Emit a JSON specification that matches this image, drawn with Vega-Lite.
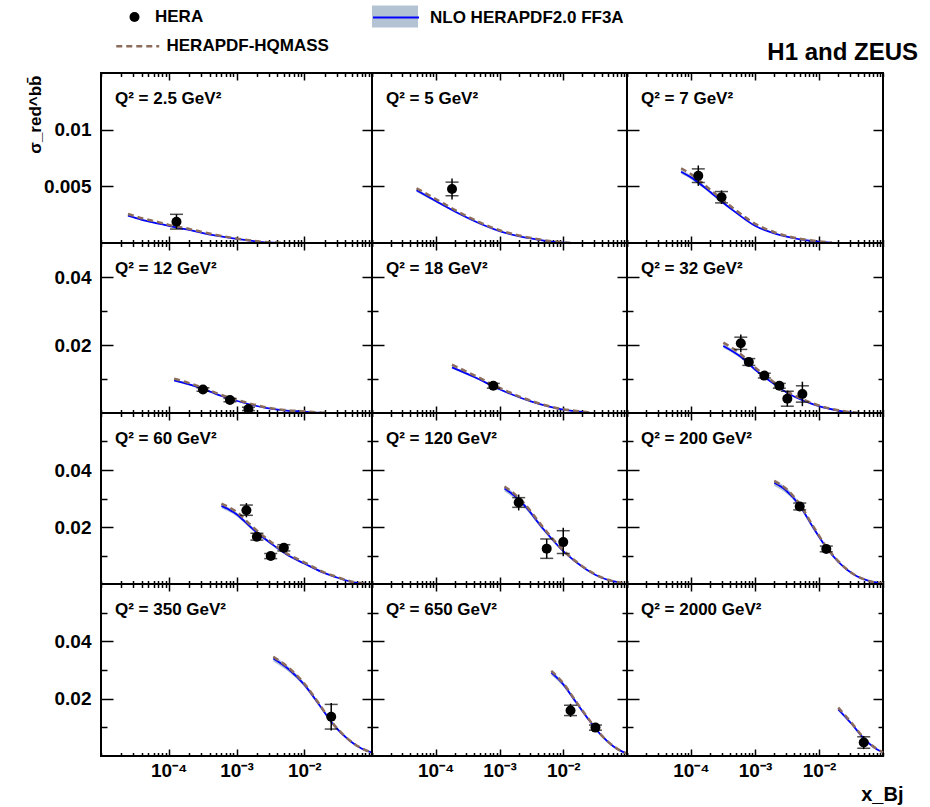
{
"$schema":"https://vega.github.io/schema/vega-lite/v6.json",
"background":"white",
"padding":{"left":24,"top":5,"right":5,"bottom":5},
"title":{"text":"H1 and ZEUS","anchor":"end","fontSize":24,"font":"Liberation Sans","fontWeight":"bold","color":"black","dx":14,"dy":60,"offset":0},
"config":{
"font":"Liberation Sans",
"view":{"stroke":"black","strokeWidth":2},
"axis":{"domain":false,"grid":false,"ticks":true,"tickColor":"black","tickWidth":1.5,"labelFont":"Liberation Sans","labelFontWeight":"bold","labelColor":"black","labelFontSize":19,"titleFont":"Liberation Sans","titleFontWeight":"bold","titleColor":"black"},
"title":{"font":"Liberation Sans","fontWeight":"bold","fontSize":17,"color":"black"},
"legend":{"labelFont":"Liberation Sans","labelFontWeight":"bold","labelColor":"black","labelFontSize":17,"labelLimit":0,"padding":0,"rowPadding":0,"offset":0,"titlePadding":0}
},
"datasets":{
"curves":[
{"panel":1,"x":0.000025,"nlo":0.00241,"lo":0.00234,"hi":0.00248,"hq":0.00256},
{"panel":1,"x":0.00004,"nlo":0.00205,"lo":0.00199,"hi":0.00211,"hq":0.00219},
{"panel":1,"x":0.00007,"nlo":0.00172,"lo":0.00167,"hi":0.00177,"hq":0.00184},
{"panel":1,"x":0.0001,"nlo":0.00151,"lo":0.00146,"hi":0.00156,"hq":0.0016},
{"panel":1,"x":0.0002,"nlo":0.00115,"lo":0.00112,"hi":0.00118,"hq":0.00124},
{"panel":1,"x":0.00031,"nlo":0.0009,"lo":0.00087,"hi":0.00093,"hq":0.00097},
{"panel":1,"x":0.0005,"nlo":0.00065,"lo":0.00063,"hi":0.00067,"hq":0.00071},
{"panel":1,"x":0.001,"nlo":0.00036,"lo":0.00035,"hi":0.00037,"hq":0.0004},
{"panel":1,"x":0.002,"nlo":0.00013,"lo":0.00012,"hi":0.00014,"hq":0.00015},
{"panel":1,"x":0.0035,"nlo":0.00003,"lo":0.00003,"hi":0.00003,"hq":0.00004},
{"panel":1,"x":0.005,"nlo":0,"lo":0,"hi":0,"hq":0.00001},
{"panel":2,"x":0.00005,"nlo":0.00465,"lo":0.00451,"hi":0.00479,"hq":0.00483},
{"panel":2,"x":0.0001,"nlo":0.0037,"lo":0.00359,"hi":0.00381,"hq":0.00388},
{"panel":2,"x":0.00023,"nlo":0.0026,"lo":0.00252,"hi":0.00268,"hq":0.00273},
{"panel":2,"x":0.0005,"nlo":0.0017,"lo":0.00165,"hi":0.00175,"hq":0.0018},
{"panel":2,"x":0.001,"nlo":0.00105,"lo":0.00102,"hi":0.00108,"hq":0.00113},
{"panel":2,"x":0.0031,"nlo":0.0004,"lo":0.00039,"hi":0.00041,"hq":0.00045},
{"panel":2,"x":0.006,"nlo":0.00015,"lo":0.00014,"hi":0.00016,"hq":0.00018},
{"panel":2,"x":0.01,"nlo":0.00004,"lo":0.00004,"hi":0.00004,"hq":0.00006},
{"panel":2,"x":0.013,"nlo":0,"lo":0,"hi":0,"hq":0},
{"panel":3,"x":0.00007,"nlo":0.00629,"lo":0.0061,"hi":0.00648,"hq":0.00658},
{"panel":3,"x":0.0001,"nlo":0.00579,"lo":0.00562,"hi":0.00596,"hq":0.00608},
{"panel":3,"x":0.0002,"nlo":0.0045,"lo":0.00437,"hi":0.00463,"hq":0.0047},
{"panel":3,"x":0.0003,"nlo":0.00366,"lo":0.00355,"hi":0.00377,"hq":0.0039},
{"panel":3,"x":0.0005,"nlo":0.0027,"lo":0.00262,"hi":0.00278,"hq":0.0029},
{"panel":3,"x":0.001,"nlo":0.00152,"lo":0.00147,"hi":0.00157,"hq":0.0017},
{"panel":3,"x":0.002,"nlo":0.00085,"lo":0.00082,"hi":0.00088,"hq":0.00095},
{"panel":3,"x":0.003,"nlo":0.00058,"lo":0.00056,"hi":0.0006,"hq":0.00065},
{"panel":3,"x":0.006,"nlo":0.00025,"lo":0.00024,"hi":0.00026,"hq":0.0003},
{"panel":3,"x":0.01,"nlo":0.00012,"lo":0.00012,"hi":0.00012,"hq":0.00015},
{"panel":3,"x":0.016,"nlo":0.00002,"lo":0.00002,"hi":0.00002,"hq":0.00003},
{"panel":4,"x":0.00012,"nlo":0.0096,"lo":0.0093,"hi":0.0099,"hq":0.0101},
{"panel":4,"x":0.0002,"nlo":0.0084,"lo":0.0081,"hi":0.0087,"hq":0.0088},
{"panel":4,"x":0.00032,"nlo":0.0071,"lo":0.0069,"hi":0.0073,"hq":0.0074},
{"panel":4,"x":0.0006,"nlo":0.005,"lo":0.0048,"hi":0.0052,"hq":0.0053},
{"panel":4,"x":0.001,"nlo":0.0036,"lo":0.0035,"hi":0.0037,"hq":0.0039},
{"panel":4,"x":0.0027,"nlo":0.0015,"lo":0.00145,"hi":0.00155,"hq":0.0017},
{"panel":4,"x":0.005,"nlo":0.0008,"lo":0.00077,"hi":0.00083,"hq":0.0009},
{"panel":4,"x":0.01,"nlo":0.0004,"lo":0.00039,"hi":0.00041,"hq":0.0005},
{"panel":4,"x":0.016,"nlo":0.0001,"lo":0.0001,"hi":0.0001,"hq":0.00015},
{"panel":4,"x":0.023,"nlo":0,"lo":0,"hi":0,"hq":0},
{"panel":5,"x":0.00018,"nlo":0.0134,"lo":0.013,"hi":0.0138,"hq":0.0142},
{"panel":5,"x":0.00041,"nlo":0.0105,"lo":0.0102,"hi":0.0108,"hq":0.011},
{"panel":5,"x":0.001,"nlo":0.007,"lo":0.0068,"hi":0.0072,"hq":0.0074},
{"panel":5,"x":0.0031,"nlo":0.0034,"lo":0.0033,"hi":0.0035,"hq":0.0036},
{"panel":5,"x":0.01,"nlo":0.001,"lo":0.00097,"hi":0.00103,"hq":0.0011},
{"panel":5,"x":0.02,"nlo":0.0003,"lo":0.0003,"hi":0.0003,"hq":0.0004},
{"panel":5,"x":0.027,"nlo":0,"lo":0,"hi":0,"hq":0.0001},
{"panel":6,"x":0.00032,"nlo":0.0197,"lo":0.0191,"hi":0.0203,"hq":0.0207},
{"panel":6,"x":0.0006,"nlo":0.0165,"lo":0.016,"hi":0.017,"hq":0.0173},
{"panel":6,"x":0.001,"nlo":0.0128,"lo":0.0124,"hi":0.0132,"hq":0.0134},
{"panel":6,"x":0.002,"nlo":0.0085,"lo":0.0082,"hi":0.0088,"hq":0.009},
{"panel":6,"x":0.0032,"nlo":0.0059,"lo":0.0057,"hi":0.0061,"hq":0.0063},
{"panel":6,"x":0.006,"nlo":0.0035,"lo":0.0034,"hi":0.0036,"hq":0.0038},
{"panel":6,"x":0.01,"nlo":0.002,"lo":0.0019,"hi":0.0021,"hq":0.0022},
{"panel":6,"x":0.02,"nlo":0.0007,"lo":0.00068,"hi":0.00072,"hq":0.0008},
{"panel":6,"x":0.03,"nlo":0.0002,"lo":0.0002,"hi":0.0002,"hq":0.0003},
{"panel":6,"x":0.04,"nlo":0,"lo":0,"hi":0,"hq":0.00005},
{"panel":7,"x":0.0006,"nlo":0.0274,"lo":0.0266,"hi":0.0282,"hq":0.0282},
{"panel":7,"x":0.001,"nlo":0.0245,"lo":0.0238,"hi":0.0252,"hq":0.0253},
{"panel":7,"x":0.0017,"nlo":0.0195,"lo":0.0189,"hi":0.0201,"hq":0.0202},
{"panel":7,"x":0.0032,"nlo":0.0143,"lo":0.0139,"hi":0.0147,"hq":0.0148},
{"panel":7,"x":0.006,"nlo":0.0098,"lo":0.0095,"hi":0.0101,"hq":0.0102},
{"panel":7,"x":0.01,"nlo":0.0072,"lo":0.007,"hi":0.0074,"hq":0.0076},
{"panel":7,"x":0.02,"nlo":0.0038,"lo":0.0037,"hi":0.0039,"hq":0.004},
{"panel":7,"x":0.027,"nlo":0.0027,"lo":0.0026,"hi":0.0028,"hq":0.0029},
{"panel":7,"x":0.053,"nlo":0.0006,"lo":0.00058,"hi":0.00062,"hq":0.0007},
{"panel":7,"x":0.08,"nlo":0.0001,"lo":0.0001,"hi":0.0001,"hq":0.0001},
{"panel":8,"x":0.0012,"nlo":0.0335,"lo":0.0325,"hi":0.0345,"hq":0.0342},
{"panel":8,"x":0.0017,"nlo":0.031,"lo":0.0301,"hi":0.0319,"hq":0.0317},
{"panel":8,"x":0.0025,"nlo":0.0274,"lo":0.0266,"hi":0.0282,"hq":0.028},
{"panel":8,"x":0.0049,"nlo":0.0192,"lo":0.0186,"hi":0.0198,"hq":0.0197},
{"panel":8,"x":0.01,"nlo":0.0115,"lo":0.0112,"hi":0.0118,"hq":0.0118},
{"panel":8,"x":0.023,"nlo":0.0051,"lo":0.0049,"hi":0.0053,"hq":0.0053},
{"panel":8,"x":0.04,"nlo":0.0022,"lo":0.0021,"hi":0.0023,"hq":0.0023},
{"panel":8,"x":0.063,"nlo":0.0009,"lo":0.00087,"hi":0.00093,"hq":0.0009},
{"panel":8,"x":0.085,"nlo":0.0003,"lo":0.0003,"hi":0.0003,"hq":0.0003},
{"panel":9,"x":0.002,"nlo":0.0355,"lo":0.0344,"hi":0.0366,"hq":0.0362},
{"panel":9,"x":0.003,"nlo":0.033,"lo":0.032,"hi":0.034,"hq":0.0336},
{"panel":9,"x":0.005,"nlo":0.0275,"lo":0.0267,"hi":0.0283,"hq":0.028},
{"panel":9,"x":0.008,"nlo":0.02,"lo":0.0194,"hi":0.0206,"hq":0.0205},
{"panel":9,"x":0.013,"nlo":0.0128,"lo":0.0124,"hi":0.0132,"hq":0.0131},
{"panel":9,"x":0.02,"nlo":0.0078,"lo":0.0076,"hi":0.008,"hq":0.008},
{"panel":9,"x":0.035,"nlo":0.0033,"lo":0.0032,"hi":0.0034,"hq":0.0034},
{"panel":9,"x":0.06,"nlo":0.0011,"lo":0.0011,"hi":0.0011,"hq":0.0011},
{"panel":9,"x":0.1,"nlo":0.0002,"lo":0.0002,"hi":0.0002,"hq":0.0002},
{"panel":10,"x":0.0035,"nlo":0.034,"lo":0.033,"hi":0.035,"hq":0.0346},
{"panel":10,"x":0.006,"nlo":0.0301,"lo":0.0292,"hi":0.031,"hq":0.0306},
{"panel":10,"x":0.01,"nlo":0.0249,"lo":0.0242,"hi":0.0256,"hq":0.0253},
{"panel":10,"x":0.0167,"nlo":0.0178,"lo":0.0173,"hi":0.0183,"hq":0.0181},
{"panel":10,"x":0.026,"nlo":0.0114,"lo":0.0111,"hi":0.0117,"hq":0.0116},
{"panel":10,"x":0.046,"nlo":0.0055,"lo":0.0053,"hi":0.0057,"hq":0.0056},
{"panel":10,"x":0.07,"nlo":0.0026,"lo":0.0025,"hi":0.0027,"hq":0.0027},
{"panel":10,"x":0.1,"nlo":0.0012,"lo":0.0012,"hi":0.0012,"hq":0.0012},
{"panel":11,"x":0.0065,"nlo":0.0291,"lo":0.0282,"hi":0.03,"hq":0.0297},
{"panel":11,"x":0.01,"nlo":0.025,"lo":0.0243,"hi":0.0257,"hq":0.0254},
{"panel":11,"x":0.0147,"nlo":0.0198,"lo":0.0192,"hi":0.0204,"hq":0.0201},
{"panel":11,"x":0.0237,"nlo":0.0134,"lo":0.013,"hi":0.0138,"hq":0.0136},
{"panel":11,"x":0.038,"nlo":0.0076,"lo":0.0074,"hi":0.0078,"hq":0.0077},
{"panel":11,"x":0.06,"nlo":0.0035,"lo":0.0034,"hi":0.0036,"hq":0.0036},
{"panel":11,"x":0.083,"nlo":0.0016,"lo":0.0016,"hi":0.0016,"hq":0.0016},
{"panel":11,"x":0.1,"nlo":0.0009,"lo":0.0009,"hi":0.0009,"hq":0.0009},
{"panel":12,"x":0.02,"nlo":0.0163,"lo":0.0158,"hi":0.0168,"hq":0.0169},
{"panel":12,"x":0.033,"nlo":0.011,"lo":0.0107,"hi":0.0113,"hq":0.0113},
{"panel":12,"x":0.048,"nlo":0.0066,"lo":0.0064,"hi":0.0068,"hq":0.0068},
{"panel":12,"x":0.081,"nlo":0.0023,"lo":0.0022,"hi":0.0024,"hq":0.0024},
{"panel":12,"x":0.1,"nlo":0.0013,"lo":0.0013,"hi":0.0013,"hq":0.0013}
],
"points":[
{"panel":1,"x":0.00013,"y":0.00188,"ylo":0.00123,"yhi":0.00253,"slo":0.00123,"shi":0.00253},
{"panel":2,"x":0.00018,"y":0.00477,"ylo":0.00384,"yhi":0.0057,"slo":0.00417,"shi":0.00537},
{"panel":3,"x":0.00013,"y":0.00594,"ylo":0.00504,"yhi":0.00684,"slo":0.00534,"shi":0.00654},
{"panel":3,"x":0.0003,"y":0.00404,"ylo":0.00344,"yhi":0.00464,"slo":0.00354,"shi":0.00454},
{"panel":4,"x":0.00032,"y":0.0069,"ylo":0.0063,"yhi":0.0075,"slo":0.0064,"shi":0.0074},
{"panel":4,"x":0.0008,"y":0.0038,"ylo":0.0032,"yhi":0.0044,"slo":0.0033,"shi":0.0043},
{"panel":4,"x":0.0015,"y":0.0012,"ylo":0.0006,"yhi":0.0018,"slo":0.0007,"shi":0.0017},
{"panel":5,"x":0.0008,"y":0.008,"ylo":0.0072,"yhi":0.0088,"slo":0.0073,"shi":0.0087},
{"panel":6,"x":0.0006,"y":0.0205,"ylo":0.0179,"yhi":0.0231,"slo":0.0187,"shi":0.0223},
{"panel":6,"x":0.0008,"y":0.015,"ylo":0.0138,"yhi":0.0162,"slo":0.014,"shi":0.016},
{"panel":6,"x":0.0014,"y":0.011,"ylo":0.0102,"yhi":0.0118,"slo":0.0103,"shi":0.0117},
{"panel":6,"x":0.0024,"y":0.008,"ylo":0.0072,"yhi":0.0088,"slo":0.0073,"shi":0.0087},
{"panel":6,"x":0.0032,"y":0.0042,"ylo":0.0019,"yhi":0.0065,"slo":0.002,"shi":0.0064},
{"panel":6,"x":0.0055,"y":0.0056,"ylo":0.002,"yhi":0.0092,"slo":0.0032,"shi":0.008},
{"panel":7,"x":0.0014,"y":0.0259,"ylo":0.0234,"yhi":0.0284,"slo":0.0241,"shi":0.0277},
{"panel":7,"x":0.002,"y":0.0166,"ylo":0.0151,"yhi":0.0181,"slo":0.0154,"shi":0.0178},
{"panel":7,"x":0.0032,"y":0.0098,"ylo":0.0088,"yhi":0.0108,"slo":0.0089,"shi":0.0107},
{"panel":7,"x":0.005,"y":0.0127,"ylo":0.0115,"yhi":0.0139,"slo":0.0116,"shi":0.0138},
{"panel":8,"x":0.002,"y":0.0286,"ylo":0.0258,"yhi":0.0314,"slo":0.0269,"shi":0.0303},
{"panel":8,"x":0.0055,"y":0.0124,"ylo":0.009,"yhi":0.0158,"slo":0.009,"shi":0.0158},
{"panel":8,"x":0.01,"y":0.0147,"ylo":0.0097,"yhi":0.0197,"slo":0.0107,"shi":0.0187},
{"panel":9,"x":0.005,"y":0.0272,"ylo":0.0257,"yhi":0.0287,"slo":0.026,"shi":0.0284},
{"panel":9,"x":0.013,"y":0.0123,"ylo":0.011,"yhi":0.0136,"slo":0.0113,"shi":0.0133},
{"panel":10,"x":0.025,"y":0.0137,"ylo":0.0089,"yhi":0.0185,"slo":0.0094,"shi":0.018},
{"panel":11,"x":0.013,"y":0.0159,"ylo":0.0136,"yhi":0.0182,"slo":0.0141,"shi":0.0177},
{"panel":11,"x":0.032,"y":0.0099,"ylo":0.0089,"yhi":0.0109,"slo":0.009,"shi":0.0108},
{"panel":12,"x":0.05,"y":0.0047,"ylo":0.0024,"yhi":0.007,"slo":0.0027,"shi":0.0067}
]
},
"columns":3,
"spacing":0,
"bounds":"flush",
"concat":[
{"width":271,"height":170,
"title":{"text":"Q² = 2.5 GeV²","anchor":"start","frame":"group","offset":-18,"dx":14,"dy":31,"baseline":"alphabetic"},
"resolve":{"axis":{"x":"independent","y":"independent"}},
"layer":[
{"data":{"name":"curves"},"transform":[{"filter":"datum.panel==1"}],"mark":{"type":"area","interpolate":"monotone"},
"encoding":{"x":{"field":"x","type":"quantitative","scale":{"type":"log","domain":[0.00001,0.1]},"axis":{"orient":"bottom","values":[0.00001,0.00002,0.00003,0.00004,0.00005,0.00006,0.00007,0.00008,0.00009,0.0001,0.0002,0.0003,0.0004,0.0005,0.0006,0.0007,0.0008,0.0009,0.001,0.002,0.003,0.004,0.005,0.006,0.007,0.008,0.009,0.01,0.02,0.03,0.04,0.05,0.06,0.07,0.08,0.09,0.1],"tickSize":{"condition":{"test":"datum.value==0.0001||datum.value==0.001||datum.value==0.01","value":-7},"value":-3.5},"labels":false,"title":null}},
"y":{"field":"lo","type":"quantitative","scale":{"domain":[0,0.015],"nice":false},"axis":{"orient":"left","values":[0.005,0.01],"tickSize":-12,"format":".3~f","labelPadding":22,"title":"σ_red^bb̄","titleX":-66,"titleY":2,"titleAngle":-90,"titleAlign":"right","titleBaseline":"middle","titleFontSize":17}},
"y2":{"field":"hi"},
"fill":{"datum":"NLO band","type":"nominal","scale":{"range":["#b4c3d4"]},"legend":{"orient":"none","legendX":282.5,"legendY":-68,"title":null,"symbolType":"M-2,-0.96H2V0.96H-2Z","symbolSize":529,"symbolStrokeWidth":0,"symbolFillColor":"#b4c3d4","labelExpr":"''","labelOffset":21.5}}}},
{"data":{"name":"curves"},"transform":[{"filter":"datum.panel==1"}],"mark":{"type":"line","strokeWidth":1.8,"interpolate":"monotone"},
"encoding":{"x":{"field":"x","type":"quantitative","scale":{"type":"log","domain":[0.00001,0.1]},"axis":{"orient":"top","values":[0.00001,0.00002,0.00003,0.00004,0.00005,0.00006,0.00007,0.00008,0.00009,0.0001,0.0002,0.0003,0.0004,0.0005,0.0006,0.0007,0.0008,0.0009,0.001,0.002,0.003,0.004,0.005,0.006,0.007,0.008,0.009,0.01,0.02,0.03,0.04,0.05,0.06,0.07,0.08,0.09,0.1],"tickSize":{"condition":{"test":"datum.value==0.0001||datum.value==0.001||datum.value==0.01","value":-7},"value":-3.5},"labels":false,"title":null}},
"y":{"field":"nlo","type":"quantitative","scale":{"domain":[0,0.015],"nice":false},"axis":{"orient":"right","values":[0.005,0.01],"tickSize":-10,"labels":false,"title":null}},
"stroke":{"datum":"NLO HERAPDF2.0 FF3A","type":"nominal","scale":{"range":["#0000ff"]},"legend":{"orient":"none","legendX":282.5,"legendY":-68,"title":null,"symbolType":"M-2,0H2","symbolSize":529,"symbolStrokeWidth":2,"labelOffset":21.5}}}},
{"data":{"name":"curves"},"transform":[{"filter":"datum.panel==1"}],"mark":{"type":"line","color":"#8c6d5c","strokeWidth":2.5,"interpolate":"monotone"},
"encoding":{"x":{"field":"x","type":"quantitative","scale":{"type":"log","domain":[0.00001,0.1]},"axis":null},
"y":{"field":"hq","type":"quantitative","scale":{"domain":[0,0.015],"nice":false},"axis":null},
"strokeDash":{"datum":"HERAPDF-HQMASS","type":"nominal","scale":{"range":[[6,4]]},"legend":{"orient":"none","legendX":24.75,"legendY":-38.75,"title":null,"symbolType":"M-2,0H2","symbolSize":462,"symbolStrokeWidth":2.5,"symbolStrokeColor":"#8c6d5c","labelOffset":16.75}}}},
{"data":{"name":"points"},"transform":[{"filter":"datum.panel==1"}],"mark":{"type":"rule","color":"black","strokeWidth":1.5},
"encoding":{"x":{"field":"x","type":"quantitative","scale":{"type":"log","domain":[0.00001,0.1]},"axis":null},"y":{"field":"ylo","type":"quantitative","scale":{"domain":[0,0.015],"nice":false},"axis":null},"y2":{"field":"yhi"}}},
{"data":{"name":"points"},"transform":[{"filter":"datum.panel==1"}],"mark":{"type":"tick","orient":"horizontal","color":"black","thickness":1.5,"size":13},
"encoding":{"x":{"field":"x","type":"quantitative","scale":{"type":"log","domain":[0.00001,0.1]},"axis":null},"y":{"field":"slo","type":"quantitative","scale":{"domain":[0,0.015],"nice":false},"axis":null}}},
{"data":{"name":"points"},"transform":[{"filter":"datum.panel==1"}],"mark":{"type":"tick","orient":"horizontal","color":"black","thickness":1.5,"size":13},
"encoding":{"x":{"field":"x","type":"quantitative","scale":{"type":"log","domain":[0.00001,0.1]},"axis":null},"y":{"field":"shi","type":"quantitative","scale":{"domain":[0,0.015],"nice":false},"axis":null}}},
{"data":{"name":"points"},"transform":[{"filter":"datum.panel==1"}],"mark":{"type":"point","filled":true,"color":"black","size":100,"opacity":1},
"encoding":{"x":{"field":"x","type":"quantitative","scale":{"type":"log","domain":[0.00001,0.1]},"axis":null},"y":{"field":"y","type":"quantitative","scale":{"domain":[0,0.015],"nice":false},"axis":null},
"shape":{"datum":"HERA","type":"nominal","scale":{"range":["circle"]},"legend":{"orient":"none","legendX":25,"legendY":-64.5,"title":null,"symbolSize":100,"symbolFillColor":"black","symbolStrokeWidth":0,"labelOffset":12}}}}
]},
{"width":255,"height":170,
"title":{"text":"Q² = 5 GeV²","anchor":"start","frame":"group","offset":-18,"dx":14,"dy":31,"baseline":"alphabetic"},
"resolve":{"axis":{"x":"independent","y":"independent"}},
"layer":[
{"data":{"name":"curves"},"transform":[{"filter":"datum.panel==2"}],"mark":{"type":"area","color":"#b4c3d4","interpolate":"monotone"},
"encoding":{"x":{"field":"x","type":"quantitative","scale":{"type":"log","domain":[0.00001,0.1]},"axis":{"orient":"bottom","values":[0.00001,0.00002,0.00003,0.00004,0.00005,0.00006,0.00007,0.00008,0.00009,0.0001,0.0002,0.0003,0.0004,0.0005,0.0006,0.0007,0.0008,0.0009,0.001,0.002,0.003,0.004,0.005,0.006,0.007,0.008,0.009,0.01,0.02,0.03,0.04,0.05,0.06,0.07,0.08,0.09,0.1],"tickSize":{"condition":{"test":"datum.value==0.0001||datum.value==0.001||datum.value==0.01","value":-7},"value":-3.5},"labels":false,"title":null}},
"y":{"field":"lo","type":"quantitative","scale":{"domain":[0,0.015],"nice":false},"axis":{"orient":"left","values":[0.005,0.01],"tickSize":-12,"labels":false,"title":null}},
"y2":{"field":"hi"}}},
{"data":{"name":"curves"},"transform":[{"filter":"datum.panel==2"}],"mark":{"type":"line","color":"#0000ff","strokeWidth":1.8,"interpolate":"monotone"},
"encoding":{"x":{"field":"x","type":"quantitative","scale":{"type":"log","domain":[0.00001,0.1]},"axis":{"orient":"top","values":[0.00001,0.00002,0.00003,0.00004,0.00005,0.00006,0.00007,0.00008,0.00009,0.0001,0.0002,0.0003,0.0004,0.0005,0.0006,0.0007,0.0008,0.0009,0.001,0.002,0.003,0.004,0.005,0.006,0.007,0.008,0.009,0.01,0.02,0.03,0.04,0.05,0.06,0.07,0.08,0.09,0.1],"tickSize":{"condition":{"test":"datum.value==0.0001||datum.value==0.001||datum.value==0.01","value":-7},"value":-3.5},"labels":false,"title":null}},
"y":{"field":"nlo","type":"quantitative","scale":{"domain":[0,0.015],"nice":false},"axis":{"orient":"right","values":[0.005,0.01],"tickSize":-10,"labels":false,"title":null}}}},
{"data":{"name":"curves"},"transform":[{"filter":"datum.panel==2"}],"mark":{"type":"line","color":"#8c6d5c","strokeWidth":2.5,"strokeDash":[6,4],"interpolate":"monotone"},
"encoding":{"x":{"field":"x","type":"quantitative","scale":{"type":"log","domain":[0.00001,0.1]},"axis":null},"y":{"field":"hq","type":"quantitative","scale":{"domain":[0,0.015],"nice":false},"axis":null}}},
{"data":{"name":"points"},"transform":[{"filter":"datum.panel==2"}],"mark":{"type":"rule","color":"black","strokeWidth":1.5},
"encoding":{"x":{"field":"x","type":"quantitative","scale":{"type":"log","domain":[0.00001,0.1]},"axis":null},"y":{"field":"ylo","type":"quantitative","scale":{"domain":[0,0.015],"nice":false},"axis":null},"y2":{"field":"yhi"}}},
{"data":{"name":"points"},"transform":[{"filter":"datum.panel==2"}],"mark":{"type":"tick","orient":"horizontal","color":"black","thickness":1.5,"size":13},
"encoding":{"x":{"field":"x","type":"quantitative","scale":{"type":"log","domain":[0.00001,0.1]},"axis":null},"y":{"field":"slo","type":"quantitative","scale":{"domain":[0,0.015],"nice":false},"axis":null}}},
{"data":{"name":"points"},"transform":[{"filter":"datum.panel==2"}],"mark":{"type":"tick","orient":"horizontal","color":"black","thickness":1.5,"size":13},
"encoding":{"x":{"field":"x","type":"quantitative","scale":{"type":"log","domain":[0.00001,0.1]},"axis":null},"y":{"field":"shi","type":"quantitative","scale":{"domain":[0,0.015],"nice":false},"axis":null}}},
{"data":{"name":"points"},"transform":[{"filter":"datum.panel==2"}],"mark":{"type":"point","shape":"circle","filled":true,"color":"black","size":100,"opacity":1},
"encoding":{"x":{"field":"x","type":"quantitative","scale":{"type":"log","domain":[0.00001,0.1]},"axis":null},"y":{"field":"y","type":"quantitative","scale":{"domain":[0,0.015],"nice":false},"axis":null}}}
]},
{"width":256,"height":170,
"title":{"text":"Q² = 7 GeV²","anchor":"start","frame":"group","offset":-18,"dx":14,"dy":31,"baseline":"alphabetic"},
"resolve":{"axis":{"x":"independent","y":"independent"}},
"layer":[
{"data":{"name":"curves"},"transform":[{"filter":"datum.panel==3"}],"mark":{"type":"area","color":"#b4c3d4","interpolate":"monotone"},
"encoding":{"x":{"field":"x","type":"quantitative","scale":{"type":"log","domain":[0.00001,0.1]},"axis":{"orient":"bottom","values":[0.00001,0.00002,0.00003,0.00004,0.00005,0.00006,0.00007,0.00008,0.00009,0.0001,0.0002,0.0003,0.0004,0.0005,0.0006,0.0007,0.0008,0.0009,0.001,0.002,0.003,0.004,0.005,0.006,0.007,0.008,0.009,0.01,0.02,0.03,0.04,0.05,0.06,0.07,0.08,0.09,0.1],"tickSize":{"condition":{"test":"datum.value==0.0001||datum.value==0.001||datum.value==0.01","value":-7},"value":-3.5},"labels":false,"title":null}},
"y":{"field":"lo","type":"quantitative","scale":{"domain":[0,0.015],"nice":false},"axis":{"orient":"left","values":[0.005,0.01],"tickSize":-12,"labels":false,"title":null}},
"y2":{"field":"hi"}}},
{"data":{"name":"curves"},"transform":[{"filter":"datum.panel==3"}],"mark":{"type":"line","color":"#0000ff","strokeWidth":1.8,"interpolate":"monotone"},
"encoding":{"x":{"field":"x","type":"quantitative","scale":{"type":"log","domain":[0.00001,0.1]},"axis":{"orient":"top","values":[0.00001,0.00002,0.00003,0.00004,0.00005,0.00006,0.00007,0.00008,0.00009,0.0001,0.0002,0.0003,0.0004,0.0005,0.0006,0.0007,0.0008,0.0009,0.001,0.002,0.003,0.004,0.005,0.006,0.007,0.008,0.009,0.01,0.02,0.03,0.04,0.05,0.06,0.07,0.08,0.09,0.1],"tickSize":{"condition":{"test":"datum.value==0.0001||datum.value==0.001||datum.value==0.01","value":-7},"value":-3.5},"labels":false,"title":null}},
"y":{"field":"nlo","type":"quantitative","scale":{"domain":[0,0.015],"nice":false},"axis":{"orient":"right","values":[0.005,0.01],"tickSize":-10,"labels":false,"title":null}}}},
{"data":{"name":"curves"},"transform":[{"filter":"datum.panel==3"}],"mark":{"type":"line","color":"#8c6d5c","strokeWidth":2.5,"strokeDash":[6,4],"interpolate":"monotone"},
"encoding":{"x":{"field":"x","type":"quantitative","scale":{"type":"log","domain":[0.00001,0.1]},"axis":null},"y":{"field":"hq","type":"quantitative","scale":{"domain":[0,0.015],"nice":false},"axis":null}}},
{"data":{"name":"points"},"transform":[{"filter":"datum.panel==3"}],"mark":{"type":"rule","color":"black","strokeWidth":1.5},
"encoding":{"x":{"field":"x","type":"quantitative","scale":{"type":"log","domain":[0.00001,0.1]},"axis":null},"y":{"field":"ylo","type":"quantitative","scale":{"domain":[0,0.015],"nice":false},"axis":null},"y2":{"field":"yhi"}}},
{"data":{"name":"points"},"transform":[{"filter":"datum.panel==3"}],"mark":{"type":"tick","orient":"horizontal","color":"black","thickness":1.5,"size":13},
"encoding":{"x":{"field":"x","type":"quantitative","scale":{"type":"log","domain":[0.00001,0.1]},"axis":null},"y":{"field":"slo","type":"quantitative","scale":{"domain":[0,0.015],"nice":false},"axis":null}}},
{"data":{"name":"points"},"transform":[{"filter":"datum.panel==3"}],"mark":{"type":"tick","orient":"horizontal","color":"black","thickness":1.5,"size":13},
"encoding":{"x":{"field":"x","type":"quantitative","scale":{"type":"log","domain":[0.00001,0.1]},"axis":null},"y":{"field":"shi","type":"quantitative","scale":{"domain":[0,0.015],"nice":false},"axis":null}}},
{"data":{"name":"points"},"transform":[{"filter":"datum.panel==3"}],"mark":{"type":"point","shape":"circle","filled":true,"color":"black","size":100,"opacity":1},
"encoding":{"x":{"field":"x","type":"quantitative","scale":{"type":"log","domain":[0.00001,0.1]},"axis":null},"y":{"field":"y","type":"quantitative","scale":{"domain":[0,0.015],"nice":false},"axis":null}}}
]},
{"width":271,"height":170,
"title":{"text":"Q² = 12 GeV²","anchor":"start","frame":"group","offset":-18,"dx":14,"dy":31,"baseline":"alphabetic"},
"resolve":{"axis":{"x":"independent","y":"independent"}},
"layer":[
{"data":{"name":"curves"},"transform":[{"filter":"datum.panel==4"}],"mark":{"type":"area","color":"#b4c3d4","interpolate":"monotone"},
"encoding":{"x":{"field":"x","type":"quantitative","scale":{"type":"log","domain":[0.00001,0.1]},"axis":{"orient":"bottom","values":[0.00001,0.00002,0.00003,0.00004,0.00005,0.00006,0.00007,0.00008,0.00009,0.0001,0.0002,0.0003,0.0004,0.0005,0.0006,0.0007,0.0008,0.0009,0.001,0.002,0.003,0.004,0.005,0.006,0.007,0.008,0.009,0.01,0.02,0.03,0.04,0.05,0.06,0.07,0.08,0.09,0.1],"tickSize":{"condition":{"test":"datum.value==0.0001||datum.value==0.001||datum.value==0.01","value":-7},"value":-3.5},"labels":false,"title":null}},
"y":{"field":"lo","type":"quantitative","scale":{"domain":[0,0.05],"nice":false},"axis":{"orient":"left","values":[0.01,0.02,0.03,0.04],"tickSize":{"condition":{"test":"datum.value==0.02||datum.value==0.04","value":-12},"value":-6},"labelExpr":"datum.value==0.02||datum.value==0.04?format(datum.value,'.2f'):''","labelOverlap":false,"labelPadding":22,"title":null}},
"y2":{"field":"hi"}}},
{"data":{"name":"curves"},"transform":[{"filter":"datum.panel==4"}],"mark":{"type":"line","color":"#0000ff","strokeWidth":1.8,"interpolate":"monotone"},
"encoding":{"x":{"field":"x","type":"quantitative","scale":{"type":"log","domain":[0.00001,0.1]},"axis":{"orient":"top","values":[0.00001,0.00002,0.00003,0.00004,0.00005,0.00006,0.00007,0.00008,0.00009,0.0001,0.0002,0.0003,0.0004,0.0005,0.0006,0.0007,0.0008,0.0009,0.001,0.002,0.003,0.004,0.005,0.006,0.007,0.008,0.009,0.01,0.02,0.03,0.04,0.05,0.06,0.07,0.08,0.09,0.1],"tickSize":{"condition":{"test":"datum.value==0.0001||datum.value==0.001||datum.value==0.01","value":-7},"value":-3.5},"labels":false,"title":null}},
"y":{"field":"nlo","type":"quantitative","scale":{"domain":[0,0.05],"nice":false},"axis":{"orient":"right","values":[0.01,0.02,0.03,0.04],"tickSize":{"condition":{"test":"datum.value==0.02||datum.value==0.04","value":-10},"value":-5},"labels":false,"title":null}}}},
{"data":{"name":"curves"},"transform":[{"filter":"datum.panel==4"}],"mark":{"type":"line","color":"#8c6d5c","strokeWidth":2.5,"strokeDash":[6,4],"interpolate":"monotone"},
"encoding":{"x":{"field":"x","type":"quantitative","scale":{"type":"log","domain":[0.00001,0.1]},"axis":null},"y":{"field":"hq","type":"quantitative","scale":{"domain":[0,0.05],"nice":false},"axis":null}}},
{"data":{"name":"points"},"transform":[{"filter":"datum.panel==4"}],"mark":{"type":"rule","color":"black","strokeWidth":1.5},
"encoding":{"x":{"field":"x","type":"quantitative","scale":{"type":"log","domain":[0.00001,0.1]},"axis":null},"y":{"field":"ylo","type":"quantitative","scale":{"domain":[0,0.05],"nice":false},"axis":null},"y2":{"field":"yhi"}}},
{"data":{"name":"points"},"transform":[{"filter":"datum.panel==4"}],"mark":{"type":"tick","orient":"horizontal","color":"black","thickness":1.5,"size":13},
"encoding":{"x":{"field":"x","type":"quantitative","scale":{"type":"log","domain":[0.00001,0.1]},"axis":null},"y":{"field":"slo","type":"quantitative","scale":{"domain":[0,0.05],"nice":false},"axis":null}}},
{"data":{"name":"points"},"transform":[{"filter":"datum.panel==4"}],"mark":{"type":"tick","orient":"horizontal","color":"black","thickness":1.5,"size":13},
"encoding":{"x":{"field":"x","type":"quantitative","scale":{"type":"log","domain":[0.00001,0.1]},"axis":null},"y":{"field":"shi","type":"quantitative","scale":{"domain":[0,0.05],"nice":false},"axis":null}}},
{"data":{"name":"points"},"transform":[{"filter":"datum.panel==4"}],"mark":{"type":"point","shape":"circle","filled":true,"color":"black","size":100,"opacity":1},
"encoding":{"x":{"field":"x","type":"quantitative","scale":{"type":"log","domain":[0.00001,0.1]},"axis":null},"y":{"field":"y","type":"quantitative","scale":{"domain":[0,0.05],"nice":false},"axis":null}}}
]},
{"width":255,"height":170,
"title":{"text":"Q² = 18 GeV²","anchor":"start","frame":"group","offset":-18,"dx":14,"dy":31,"baseline":"alphabetic"},
"resolve":{"axis":{"x":"independent","y":"independent"}},
"layer":[
{"data":{"name":"curves"},"transform":[{"filter":"datum.panel==5"}],"mark":{"type":"area","color":"#b4c3d4","interpolate":"monotone"},
"encoding":{"x":{"field":"x","type":"quantitative","scale":{"type":"log","domain":[0.00001,0.1]},"axis":{"orient":"bottom","values":[0.00001,0.00002,0.00003,0.00004,0.00005,0.00006,0.00007,0.00008,0.00009,0.0001,0.0002,0.0003,0.0004,0.0005,0.0006,0.0007,0.0008,0.0009,0.001,0.002,0.003,0.004,0.005,0.006,0.007,0.008,0.009,0.01,0.02,0.03,0.04,0.05,0.06,0.07,0.08,0.09,0.1],"tickSize":{"condition":{"test":"datum.value==0.0001||datum.value==0.001||datum.value==0.01","value":-7},"value":-3.5},"labels":false,"title":null}},
"y":{"field":"lo","type":"quantitative","scale":{"domain":[0,0.05],"nice":false},"axis":{"orient":"left","values":[0.01,0.02,0.03,0.04],"tickSize":{"condition":{"test":"datum.value==0.02||datum.value==0.04","value":-12},"value":-6},"labels":false,"title":null}},
"y2":{"field":"hi"}}},
{"data":{"name":"curves"},"transform":[{"filter":"datum.panel==5"}],"mark":{"type":"line","color":"#0000ff","strokeWidth":1.8,"interpolate":"monotone"},
"encoding":{"x":{"field":"x","type":"quantitative","scale":{"type":"log","domain":[0.00001,0.1]},"axis":{"orient":"top","values":[0.00001,0.00002,0.00003,0.00004,0.00005,0.00006,0.00007,0.00008,0.00009,0.0001,0.0002,0.0003,0.0004,0.0005,0.0006,0.0007,0.0008,0.0009,0.001,0.002,0.003,0.004,0.005,0.006,0.007,0.008,0.009,0.01,0.02,0.03,0.04,0.05,0.06,0.07,0.08,0.09,0.1],"tickSize":{"condition":{"test":"datum.value==0.0001||datum.value==0.001||datum.value==0.01","value":-7},"value":-3.5},"labels":false,"title":null}},
"y":{"field":"nlo","type":"quantitative","scale":{"domain":[0,0.05],"nice":false},"axis":{"orient":"right","values":[0.01,0.02,0.03,0.04],"tickSize":{"condition":{"test":"datum.value==0.02||datum.value==0.04","value":-10},"value":-5},"labels":false,"title":null}}}},
{"data":{"name":"curves"},"transform":[{"filter":"datum.panel==5"}],"mark":{"type":"line","color":"#8c6d5c","strokeWidth":2.5,"strokeDash":[6,4],"interpolate":"monotone"},
"encoding":{"x":{"field":"x","type":"quantitative","scale":{"type":"log","domain":[0.00001,0.1]},"axis":null},"y":{"field":"hq","type":"quantitative","scale":{"domain":[0,0.05],"nice":false},"axis":null}}},
{"data":{"name":"points"},"transform":[{"filter":"datum.panel==5"}],"mark":{"type":"rule","color":"black","strokeWidth":1.5},
"encoding":{"x":{"field":"x","type":"quantitative","scale":{"type":"log","domain":[0.00001,0.1]},"axis":null},"y":{"field":"ylo","type":"quantitative","scale":{"domain":[0,0.05],"nice":false},"axis":null},"y2":{"field":"yhi"}}},
{"data":{"name":"points"},"transform":[{"filter":"datum.panel==5"}],"mark":{"type":"tick","orient":"horizontal","color":"black","thickness":1.5,"size":13},
"encoding":{"x":{"field":"x","type":"quantitative","scale":{"type":"log","domain":[0.00001,0.1]},"axis":null},"y":{"field":"slo","type":"quantitative","scale":{"domain":[0,0.05],"nice":false},"axis":null}}},
{"data":{"name":"points"},"transform":[{"filter":"datum.panel==5"}],"mark":{"type":"tick","orient":"horizontal","color":"black","thickness":1.5,"size":13},
"encoding":{"x":{"field":"x","type":"quantitative","scale":{"type":"log","domain":[0.00001,0.1]},"axis":null},"y":{"field":"shi","type":"quantitative","scale":{"domain":[0,0.05],"nice":false},"axis":null}}},
{"data":{"name":"points"},"transform":[{"filter":"datum.panel==5"}],"mark":{"type":"point","shape":"circle","filled":true,"color":"black","size":100,"opacity":1},
"encoding":{"x":{"field":"x","type":"quantitative","scale":{"type":"log","domain":[0.00001,0.1]},"axis":null},"y":{"field":"y","type":"quantitative","scale":{"domain":[0,0.05],"nice":false},"axis":null}}}
]},
{"width":256,"height":170,
"title":{"text":"Q² = 32 GeV²","anchor":"start","frame":"group","offset":-18,"dx":14,"dy":31,"baseline":"alphabetic"},
"resolve":{"axis":{"x":"independent","y":"independent"}},
"layer":[
{"data":{"name":"curves"},"transform":[{"filter":"datum.panel==6"}],"mark":{"type":"area","color":"#b4c3d4","interpolate":"monotone"},
"encoding":{"x":{"field":"x","type":"quantitative","scale":{"type":"log","domain":[0.00001,0.1]},"axis":{"orient":"bottom","values":[0.00001,0.00002,0.00003,0.00004,0.00005,0.00006,0.00007,0.00008,0.00009,0.0001,0.0002,0.0003,0.0004,0.0005,0.0006,0.0007,0.0008,0.0009,0.001,0.002,0.003,0.004,0.005,0.006,0.007,0.008,0.009,0.01,0.02,0.03,0.04,0.05,0.06,0.07,0.08,0.09,0.1],"tickSize":{"condition":{"test":"datum.value==0.0001||datum.value==0.001||datum.value==0.01","value":-7},"value":-3.5},"labels":false,"title":null}},
"y":{"field":"lo","type":"quantitative","scale":{"domain":[0,0.05],"nice":false},"axis":{"orient":"left","values":[0.01,0.02,0.03,0.04],"tickSize":{"condition":{"test":"datum.value==0.02||datum.value==0.04","value":-12},"value":-6},"labels":false,"title":null}},
"y2":{"field":"hi"}}},
{"data":{"name":"curves"},"transform":[{"filter":"datum.panel==6"}],"mark":{"type":"line","color":"#0000ff","strokeWidth":1.8,"interpolate":"monotone"},
"encoding":{"x":{"field":"x","type":"quantitative","scale":{"type":"log","domain":[0.00001,0.1]},"axis":{"orient":"top","values":[0.00001,0.00002,0.00003,0.00004,0.00005,0.00006,0.00007,0.00008,0.00009,0.0001,0.0002,0.0003,0.0004,0.0005,0.0006,0.0007,0.0008,0.0009,0.001,0.002,0.003,0.004,0.005,0.006,0.007,0.008,0.009,0.01,0.02,0.03,0.04,0.05,0.06,0.07,0.08,0.09,0.1],"tickSize":{"condition":{"test":"datum.value==0.0001||datum.value==0.001||datum.value==0.01","value":-7},"value":-3.5},"labels":false,"title":null}},
"y":{"field":"nlo","type":"quantitative","scale":{"domain":[0,0.05],"nice":false},"axis":{"orient":"right","values":[0.01,0.02,0.03,0.04],"tickSize":{"condition":{"test":"datum.value==0.02||datum.value==0.04","value":-10},"value":-5},"labels":false,"title":null}}}},
{"data":{"name":"curves"},"transform":[{"filter":"datum.panel==6"}],"mark":{"type":"line","color":"#8c6d5c","strokeWidth":2.5,"strokeDash":[6,4],"interpolate":"monotone"},
"encoding":{"x":{"field":"x","type":"quantitative","scale":{"type":"log","domain":[0.00001,0.1]},"axis":null},"y":{"field":"hq","type":"quantitative","scale":{"domain":[0,0.05],"nice":false},"axis":null}}},
{"data":{"name":"points"},"transform":[{"filter":"datum.panel==6"}],"mark":{"type":"rule","color":"black","strokeWidth":1.5},
"encoding":{"x":{"field":"x","type":"quantitative","scale":{"type":"log","domain":[0.00001,0.1]},"axis":null},"y":{"field":"ylo","type":"quantitative","scale":{"domain":[0,0.05],"nice":false},"axis":null},"y2":{"field":"yhi"}}},
{"data":{"name":"points"},"transform":[{"filter":"datum.panel==6"}],"mark":{"type":"tick","orient":"horizontal","color":"black","thickness":1.5,"size":13},
"encoding":{"x":{"field":"x","type":"quantitative","scale":{"type":"log","domain":[0.00001,0.1]},"axis":null},"y":{"field":"slo","type":"quantitative","scale":{"domain":[0,0.05],"nice":false},"axis":null}}},
{"data":{"name":"points"},"transform":[{"filter":"datum.panel==6"}],"mark":{"type":"tick","orient":"horizontal","color":"black","thickness":1.5,"size":13},
"encoding":{"x":{"field":"x","type":"quantitative","scale":{"type":"log","domain":[0.00001,0.1]},"axis":null},"y":{"field":"shi","type":"quantitative","scale":{"domain":[0,0.05],"nice":false},"axis":null}}},
{"data":{"name":"points"},"transform":[{"filter":"datum.panel==6"}],"mark":{"type":"point","shape":"circle","filled":true,"color":"black","size":100,"opacity":1},
"encoding":{"x":{"field":"x","type":"quantitative","scale":{"type":"log","domain":[0.00001,0.1]},"axis":null},"y":{"field":"y","type":"quantitative","scale":{"domain":[0,0.05],"nice":false},"axis":null}}}
]},
{"width":271,"height":171,
"title":{"text":"Q² = 60 GeV²","anchor":"start","frame":"group","offset":-18,"dx":14,"dy":31,"baseline":"alphabetic"},
"resolve":{"axis":{"x":"independent","y":"independent"}},
"layer":[
{"data":{"name":"curves"},"transform":[{"filter":"datum.panel==7"}],"mark":{"type":"area","color":"#b4c3d4","interpolate":"monotone"},
"encoding":{"x":{"field":"x","type":"quantitative","scale":{"type":"log","domain":[0.00001,0.1]},"axis":{"orient":"bottom","values":[0.00001,0.00002,0.00003,0.00004,0.00005,0.00006,0.00007,0.00008,0.00009,0.0001,0.0002,0.0003,0.0004,0.0005,0.0006,0.0007,0.0008,0.0009,0.001,0.002,0.003,0.004,0.005,0.006,0.007,0.008,0.009,0.01,0.02,0.03,0.04,0.05,0.06,0.07,0.08,0.09,0.1],"tickSize":{"condition":{"test":"datum.value==0.0001||datum.value==0.001||datum.value==0.01","value":-7},"value":-3.5},"labels":false,"title":null}},
"y":{"field":"lo","type":"quantitative","scale":{"domain":[0,0.06],"nice":false},"axis":{"orient":"left","values":[0.01,0.02,0.03,0.04,0.05],"tickSize":{"condition":{"test":"datum.value==0.02||datum.value==0.04","value":-12},"value":-6},"labelExpr":"datum.value==0.02||datum.value==0.04?format(datum.value,'.2f'):''","labelOverlap":false,"labelPadding":22,"title":null}},
"y2":{"field":"hi"}}},
{"data":{"name":"curves"},"transform":[{"filter":"datum.panel==7"}],"mark":{"type":"line","color":"#0000ff","strokeWidth":1.8,"interpolate":"monotone"},
"encoding":{"x":{"field":"x","type":"quantitative","scale":{"type":"log","domain":[0.00001,0.1]},"axis":{"orient":"top","values":[0.00001,0.00002,0.00003,0.00004,0.00005,0.00006,0.00007,0.00008,0.00009,0.0001,0.0002,0.0003,0.0004,0.0005,0.0006,0.0007,0.0008,0.0009,0.001,0.002,0.003,0.004,0.005,0.006,0.007,0.008,0.009,0.01,0.02,0.03,0.04,0.05,0.06,0.07,0.08,0.09,0.1],"tickSize":{"condition":{"test":"datum.value==0.0001||datum.value==0.001||datum.value==0.01","value":-7},"value":-3.5},"labels":false,"title":null}},
"y":{"field":"nlo","type":"quantitative","scale":{"domain":[0,0.06],"nice":false},"axis":{"orient":"right","values":[0.01,0.02,0.03,0.04,0.05],"tickSize":{"condition":{"test":"datum.value==0.02||datum.value==0.04","value":-10},"value":-5},"labels":false,"title":null}}}},
{"data":{"name":"curves"},"transform":[{"filter":"datum.panel==7"}],"mark":{"type":"line","color":"#8c6d5c","strokeWidth":2.5,"strokeDash":[6,4],"interpolate":"monotone"},
"encoding":{"x":{"field":"x","type":"quantitative","scale":{"type":"log","domain":[0.00001,0.1]},"axis":null},"y":{"field":"hq","type":"quantitative","scale":{"domain":[0,0.06],"nice":false},"axis":null}}},
{"data":{"name":"points"},"transform":[{"filter":"datum.panel==7"}],"mark":{"type":"rule","color":"black","strokeWidth":1.5},
"encoding":{"x":{"field":"x","type":"quantitative","scale":{"type":"log","domain":[0.00001,0.1]},"axis":null},"y":{"field":"ylo","type":"quantitative","scale":{"domain":[0,0.06],"nice":false},"axis":null},"y2":{"field":"yhi"}}},
{"data":{"name":"points"},"transform":[{"filter":"datum.panel==7"}],"mark":{"type":"tick","orient":"horizontal","color":"black","thickness":1.5,"size":13},
"encoding":{"x":{"field":"x","type":"quantitative","scale":{"type":"log","domain":[0.00001,0.1]},"axis":null},"y":{"field":"slo","type":"quantitative","scale":{"domain":[0,0.06],"nice":false},"axis":null}}},
{"data":{"name":"points"},"transform":[{"filter":"datum.panel==7"}],"mark":{"type":"tick","orient":"horizontal","color":"black","thickness":1.5,"size":13},
"encoding":{"x":{"field":"x","type":"quantitative","scale":{"type":"log","domain":[0.00001,0.1]},"axis":null},"y":{"field":"shi","type":"quantitative","scale":{"domain":[0,0.06],"nice":false},"axis":null}}},
{"data":{"name":"points"},"transform":[{"filter":"datum.panel==7"}],"mark":{"type":"point","shape":"circle","filled":true,"color":"black","size":100,"opacity":1},
"encoding":{"x":{"field":"x","type":"quantitative","scale":{"type":"log","domain":[0.00001,0.1]},"axis":null},"y":{"field":"y","type":"quantitative","scale":{"domain":[0,0.06],"nice":false},"axis":null}}}
]},
{"width":255,"height":171,
"title":{"text":"Q² = 120 GeV²","anchor":"start","frame":"group","offset":-18,"dx":14,"dy":31,"baseline":"alphabetic"},
"resolve":{"axis":{"x":"independent","y":"independent"}},
"layer":[
{"data":{"name":"curves"},"transform":[{"filter":"datum.panel==8"}],"mark":{"type":"area","color":"#b4c3d4","interpolate":"monotone"},
"encoding":{"x":{"field":"x","type":"quantitative","scale":{"type":"log","domain":[0.00001,0.1]},"axis":{"orient":"bottom","values":[0.00001,0.00002,0.00003,0.00004,0.00005,0.00006,0.00007,0.00008,0.00009,0.0001,0.0002,0.0003,0.0004,0.0005,0.0006,0.0007,0.0008,0.0009,0.001,0.002,0.003,0.004,0.005,0.006,0.007,0.008,0.009,0.01,0.02,0.03,0.04,0.05,0.06,0.07,0.08,0.09,0.1],"tickSize":{"condition":{"test":"datum.value==0.0001||datum.value==0.001||datum.value==0.01","value":-7},"value":-3.5},"labels":false,"title":null}},
"y":{"field":"lo","type":"quantitative","scale":{"domain":[0,0.06],"nice":false},"axis":{"orient":"left","values":[0.01,0.02,0.03,0.04,0.05],"tickSize":{"condition":{"test":"datum.value==0.02||datum.value==0.04","value":-12},"value":-6},"labels":false,"title":null}},
"y2":{"field":"hi"}}},
{"data":{"name":"curves"},"transform":[{"filter":"datum.panel==8"}],"mark":{"type":"line","color":"#0000ff","strokeWidth":1.8,"interpolate":"monotone"},
"encoding":{"x":{"field":"x","type":"quantitative","scale":{"type":"log","domain":[0.00001,0.1]},"axis":{"orient":"top","values":[0.00001,0.00002,0.00003,0.00004,0.00005,0.00006,0.00007,0.00008,0.00009,0.0001,0.0002,0.0003,0.0004,0.0005,0.0006,0.0007,0.0008,0.0009,0.001,0.002,0.003,0.004,0.005,0.006,0.007,0.008,0.009,0.01,0.02,0.03,0.04,0.05,0.06,0.07,0.08,0.09,0.1],"tickSize":{"condition":{"test":"datum.value==0.0001||datum.value==0.001||datum.value==0.01","value":-7},"value":-3.5},"labels":false,"title":null}},
"y":{"field":"nlo","type":"quantitative","scale":{"domain":[0,0.06],"nice":false},"axis":{"orient":"right","values":[0.01,0.02,0.03,0.04,0.05],"tickSize":{"condition":{"test":"datum.value==0.02||datum.value==0.04","value":-10},"value":-5},"labels":false,"title":null}}}},
{"data":{"name":"curves"},"transform":[{"filter":"datum.panel==8"}],"mark":{"type":"line","color":"#8c6d5c","strokeWidth":2.5,"strokeDash":[6,4],"interpolate":"monotone"},
"encoding":{"x":{"field":"x","type":"quantitative","scale":{"type":"log","domain":[0.00001,0.1]},"axis":null},"y":{"field":"hq","type":"quantitative","scale":{"domain":[0,0.06],"nice":false},"axis":null}}},
{"data":{"name":"points"},"transform":[{"filter":"datum.panel==8"}],"mark":{"type":"rule","color":"black","strokeWidth":1.5},
"encoding":{"x":{"field":"x","type":"quantitative","scale":{"type":"log","domain":[0.00001,0.1]},"axis":null},"y":{"field":"ylo","type":"quantitative","scale":{"domain":[0,0.06],"nice":false},"axis":null},"y2":{"field":"yhi"}}},
{"data":{"name":"points"},"transform":[{"filter":"datum.panel==8"}],"mark":{"type":"tick","orient":"horizontal","color":"black","thickness":1.5,"size":13},
"encoding":{"x":{"field":"x","type":"quantitative","scale":{"type":"log","domain":[0.00001,0.1]},"axis":null},"y":{"field":"slo","type":"quantitative","scale":{"domain":[0,0.06],"nice":false},"axis":null}}},
{"data":{"name":"points"},"transform":[{"filter":"datum.panel==8"}],"mark":{"type":"tick","orient":"horizontal","color":"black","thickness":1.5,"size":13},
"encoding":{"x":{"field":"x","type":"quantitative","scale":{"type":"log","domain":[0.00001,0.1]},"axis":null},"y":{"field":"shi","type":"quantitative","scale":{"domain":[0,0.06],"nice":false},"axis":null}}},
{"data":{"name":"points"},"transform":[{"filter":"datum.panel==8"}],"mark":{"type":"point","shape":"circle","filled":true,"color":"black","size":100,"opacity":1},
"encoding":{"x":{"field":"x","type":"quantitative","scale":{"type":"log","domain":[0.00001,0.1]},"axis":null},"y":{"field":"y","type":"quantitative","scale":{"domain":[0,0.06],"nice":false},"axis":null}}}
]},
{"width":256,"height":171,
"title":{"text":"Q² = 200 GeV²","anchor":"start","frame":"group","offset":-18,"dx":14,"dy":31,"baseline":"alphabetic"},
"resolve":{"axis":{"x":"independent","y":"independent"}},
"layer":[
{"data":{"name":"curves"},"transform":[{"filter":"datum.panel==9"}],"mark":{"type":"area","color":"#b4c3d4","interpolate":"monotone"},
"encoding":{"x":{"field":"x","type":"quantitative","scale":{"type":"log","domain":[0.00001,0.1]},"axis":{"orient":"bottom","values":[0.00001,0.00002,0.00003,0.00004,0.00005,0.00006,0.00007,0.00008,0.00009,0.0001,0.0002,0.0003,0.0004,0.0005,0.0006,0.0007,0.0008,0.0009,0.001,0.002,0.003,0.004,0.005,0.006,0.007,0.008,0.009,0.01,0.02,0.03,0.04,0.05,0.06,0.07,0.08,0.09,0.1],"tickSize":{"condition":{"test":"datum.value==0.0001||datum.value==0.001||datum.value==0.01","value":-7},"value":-3.5},"labels":false,"title":null}},
"y":{"field":"lo","type":"quantitative","scale":{"domain":[0,0.06],"nice":false},"axis":{"orient":"left","values":[0.01,0.02,0.03,0.04,0.05],"tickSize":{"condition":{"test":"datum.value==0.02||datum.value==0.04","value":-12},"value":-6},"labels":false,"title":null}},
"y2":{"field":"hi"}}},
{"data":{"name":"curves"},"transform":[{"filter":"datum.panel==9"}],"mark":{"type":"line","color":"#0000ff","strokeWidth":1.8,"interpolate":"monotone"},
"encoding":{"x":{"field":"x","type":"quantitative","scale":{"type":"log","domain":[0.00001,0.1]},"axis":{"orient":"top","values":[0.00001,0.00002,0.00003,0.00004,0.00005,0.00006,0.00007,0.00008,0.00009,0.0001,0.0002,0.0003,0.0004,0.0005,0.0006,0.0007,0.0008,0.0009,0.001,0.002,0.003,0.004,0.005,0.006,0.007,0.008,0.009,0.01,0.02,0.03,0.04,0.05,0.06,0.07,0.08,0.09,0.1],"tickSize":{"condition":{"test":"datum.value==0.0001||datum.value==0.001||datum.value==0.01","value":-7},"value":-3.5},"labels":false,"title":null}},
"y":{"field":"nlo","type":"quantitative","scale":{"domain":[0,0.06],"nice":false},"axis":{"orient":"right","values":[0.01,0.02,0.03,0.04,0.05],"tickSize":{"condition":{"test":"datum.value==0.02||datum.value==0.04","value":-10},"value":-5},"labels":false,"title":null}}}},
{"data":{"name":"curves"},"transform":[{"filter":"datum.panel==9"}],"mark":{"type":"line","color":"#8c6d5c","strokeWidth":2.5,"strokeDash":[6,4],"interpolate":"monotone"},
"encoding":{"x":{"field":"x","type":"quantitative","scale":{"type":"log","domain":[0.00001,0.1]},"axis":null},"y":{"field":"hq","type":"quantitative","scale":{"domain":[0,0.06],"nice":false},"axis":null}}},
{"data":{"name":"points"},"transform":[{"filter":"datum.panel==9"}],"mark":{"type":"rule","color":"black","strokeWidth":1.5},
"encoding":{"x":{"field":"x","type":"quantitative","scale":{"type":"log","domain":[0.00001,0.1]},"axis":null},"y":{"field":"ylo","type":"quantitative","scale":{"domain":[0,0.06],"nice":false},"axis":null},"y2":{"field":"yhi"}}},
{"data":{"name":"points"},"transform":[{"filter":"datum.panel==9"}],"mark":{"type":"tick","orient":"horizontal","color":"black","thickness":1.5,"size":13},
"encoding":{"x":{"field":"x","type":"quantitative","scale":{"type":"log","domain":[0.00001,0.1]},"axis":null},"y":{"field":"slo","type":"quantitative","scale":{"domain":[0,0.06],"nice":false},"axis":null}}},
{"data":{"name":"points"},"transform":[{"filter":"datum.panel==9"}],"mark":{"type":"tick","orient":"horizontal","color":"black","thickness":1.5,"size":13},
"encoding":{"x":{"field":"x","type":"quantitative","scale":{"type":"log","domain":[0.00001,0.1]},"axis":null},"y":{"field":"shi","type":"quantitative","scale":{"domain":[0,0.06],"nice":false},"axis":null}}},
{"data":{"name":"points"},"transform":[{"filter":"datum.panel==9"}],"mark":{"type":"point","shape":"circle","filled":true,"color":"black","size":100,"opacity":1},
"encoding":{"x":{"field":"x","type":"quantitative","scale":{"type":"log","domain":[0.00001,0.1]},"axis":null},"y":{"field":"y","type":"quantitative","scale":{"domain":[0,0.06],"nice":false},"axis":null}}}
]},
{"width":271,"height":172,
"title":{"text":"Q² = 350 GeV²","anchor":"start","frame":"group","offset":-18,"dx":14,"dy":31,"baseline":"alphabetic"},
"resolve":{"axis":{"x":"independent","y":"independent"}},
"layer":[
{"data":{"name":"curves"},"transform":[{"filter":"datum.panel==10"}],"mark":{"type":"area","color":"#b4c3d4","interpolate":"monotone"},
"encoding":{"x":{"field":"x","type":"quantitative","scale":{"type":"log","domain":[0.00001,0.1]},"axis":{"orient":"bottom","values":[0.00001,0.00002,0.00003,0.00004,0.00005,0.00006,0.00007,0.00008,0.00009,0.0001,0.0002,0.0003,0.0004,0.0005,0.0006,0.0007,0.0008,0.0009,0.001,0.002,0.003,0.004,0.005,0.006,0.007,0.008,0.009,0.01,0.02,0.03,0.04,0.05,0.06,0.07,0.08,0.09,0.1],"tickSize":{"condition":{"test":"datum.value==0.0001||datum.value==0.001||datum.value==0.01","value":-7},"value":-3.5},"labelExpr":"datum.value==0.0001?'10⁻⁴':datum.value==0.001?'10⁻³':datum.value==0.01?'10⁻²':''","labelOverlap":false,"labelFlush":false,"labelPadding":12,"title":null}},
"y":{"field":"lo","type":"quantitative","scale":{"domain":[0,0.06],"nice":false},"axis":{"orient":"left","values":[0.01,0.02,0.03,0.04,0.05],"tickSize":{"condition":{"test":"datum.value==0.02||datum.value==0.04","value":-12},"value":-6},"labelExpr":"datum.value==0.02||datum.value==0.04?format(datum.value,'.2f'):''","labelOverlap":false,"labelPadding":22,"title":null}},
"y2":{"field":"hi"}}},
{"data":{"name":"curves"},"transform":[{"filter":"datum.panel==10"}],"mark":{"type":"line","color":"#0000ff","strokeWidth":1.8,"interpolate":"monotone"},
"encoding":{"x":{"field":"x","type":"quantitative","scale":{"type":"log","domain":[0.00001,0.1]},"axis":{"orient":"top","values":[0.00001,0.00002,0.00003,0.00004,0.00005,0.00006,0.00007,0.00008,0.00009,0.0001,0.0002,0.0003,0.0004,0.0005,0.0006,0.0007,0.0008,0.0009,0.001,0.002,0.003,0.004,0.005,0.006,0.007,0.008,0.009,0.01,0.02,0.03,0.04,0.05,0.06,0.07,0.08,0.09,0.1],"tickSize":{"condition":{"test":"datum.value==0.0001||datum.value==0.001||datum.value==0.01","value":-7},"value":-3.5},"labels":false,"title":null}},
"y":{"field":"nlo","type":"quantitative","scale":{"domain":[0,0.06],"nice":false},"axis":{"orient":"right","values":[0.01,0.02,0.03,0.04,0.05],"tickSize":{"condition":{"test":"datum.value==0.02||datum.value==0.04","value":-10},"value":-5},"labels":false,"title":null}}}},
{"data":{"name":"curves"},"transform":[{"filter":"datum.panel==10"}],"mark":{"type":"line","color":"#8c6d5c","strokeWidth":2.5,"strokeDash":[6,4],"interpolate":"monotone"},
"encoding":{"x":{"field":"x","type":"quantitative","scale":{"type":"log","domain":[0.00001,0.1]},"axis":null},"y":{"field":"hq","type":"quantitative","scale":{"domain":[0,0.06],"nice":false},"axis":null}}},
{"data":{"name":"points"},"transform":[{"filter":"datum.panel==10"}],"mark":{"type":"rule","color":"black","strokeWidth":1.5},
"encoding":{"x":{"field":"x","type":"quantitative","scale":{"type":"log","domain":[0.00001,0.1]},"axis":null},"y":{"field":"ylo","type":"quantitative","scale":{"domain":[0,0.06],"nice":false},"axis":null},"y2":{"field":"yhi"}}},
{"data":{"name":"points"},"transform":[{"filter":"datum.panel==10"}],"mark":{"type":"tick","orient":"horizontal","color":"black","thickness":1.5,"size":13},
"encoding":{"x":{"field":"x","type":"quantitative","scale":{"type":"log","domain":[0.00001,0.1]},"axis":null},"y":{"field":"slo","type":"quantitative","scale":{"domain":[0,0.06],"nice":false},"axis":null}}},
{"data":{"name":"points"},"transform":[{"filter":"datum.panel==10"}],"mark":{"type":"tick","orient":"horizontal","color":"black","thickness":1.5,"size":13},
"encoding":{"x":{"field":"x","type":"quantitative","scale":{"type":"log","domain":[0.00001,0.1]},"axis":null},"y":{"field":"shi","type":"quantitative","scale":{"domain":[0,0.06],"nice":false},"axis":null}}},
{"data":{"name":"points"},"transform":[{"filter":"datum.panel==10"}],"mark":{"type":"point","shape":"circle","filled":true,"color":"black","size":100,"opacity":1},
"encoding":{"x":{"field":"x","type":"quantitative","scale":{"type":"log","domain":[0.00001,0.1]},"axis":null},"y":{"field":"y","type":"quantitative","scale":{"domain":[0,0.06],"nice":false},"axis":null}}}
]},
{"width":255,"height":172,
"title":{"text":"Q² = 650 GeV²","anchor":"start","frame":"group","offset":-18,"dx":14,"dy":31,"baseline":"alphabetic"},
"resolve":{"axis":{"x":"independent","y":"independent"}},
"layer":[
{"data":{"name":"curves"},"transform":[{"filter":"datum.panel==11"}],"mark":{"type":"area","color":"#b4c3d4","interpolate":"monotone"},
"encoding":{"x":{"field":"x","type":"quantitative","scale":{"type":"log","domain":[0.00001,0.1]},"axis":{"orient":"bottom","values":[0.00001,0.00002,0.00003,0.00004,0.00005,0.00006,0.00007,0.00008,0.00009,0.0001,0.0002,0.0003,0.0004,0.0005,0.0006,0.0007,0.0008,0.0009,0.001,0.002,0.003,0.004,0.005,0.006,0.007,0.008,0.009,0.01,0.02,0.03,0.04,0.05,0.06,0.07,0.08,0.09,0.1],"tickSize":{"condition":{"test":"datum.value==0.0001||datum.value==0.001||datum.value==0.01","value":-7},"value":-3.5},"labelExpr":"datum.value==0.0001?'10⁻⁴':datum.value==0.001?'10⁻³':datum.value==0.01?'10⁻²':''","labelOverlap":false,"labelFlush":false,"labelPadding":12,"title":null}},
"y":{"field":"lo","type":"quantitative","scale":{"domain":[0,0.06],"nice":false},"axis":{"orient":"left","values":[0.01,0.02,0.03,0.04,0.05],"tickSize":{"condition":{"test":"datum.value==0.02||datum.value==0.04","value":-12},"value":-6},"labels":false,"title":null}},
"y2":{"field":"hi"}}},
{"data":{"name":"curves"},"transform":[{"filter":"datum.panel==11"}],"mark":{"type":"line","color":"#0000ff","strokeWidth":1.8,"interpolate":"monotone"},
"encoding":{"x":{"field":"x","type":"quantitative","scale":{"type":"log","domain":[0.00001,0.1]},"axis":{"orient":"top","values":[0.00001,0.00002,0.00003,0.00004,0.00005,0.00006,0.00007,0.00008,0.00009,0.0001,0.0002,0.0003,0.0004,0.0005,0.0006,0.0007,0.0008,0.0009,0.001,0.002,0.003,0.004,0.005,0.006,0.007,0.008,0.009,0.01,0.02,0.03,0.04,0.05,0.06,0.07,0.08,0.09,0.1],"tickSize":{"condition":{"test":"datum.value==0.0001||datum.value==0.001||datum.value==0.01","value":-7},"value":-3.5},"labels":false,"title":null}},
"y":{"field":"nlo","type":"quantitative","scale":{"domain":[0,0.06],"nice":false},"axis":{"orient":"right","values":[0.01,0.02,0.03,0.04,0.05],"tickSize":{"condition":{"test":"datum.value==0.02||datum.value==0.04","value":-10},"value":-5},"labels":false,"title":null}}}},
{"data":{"name":"curves"},"transform":[{"filter":"datum.panel==11"}],"mark":{"type":"line","color":"#8c6d5c","strokeWidth":2.5,"strokeDash":[6,4],"interpolate":"monotone"},
"encoding":{"x":{"field":"x","type":"quantitative","scale":{"type":"log","domain":[0.00001,0.1]},"axis":null},"y":{"field":"hq","type":"quantitative","scale":{"domain":[0,0.06],"nice":false},"axis":null}}},
{"data":{"name":"points"},"transform":[{"filter":"datum.panel==11"}],"mark":{"type":"rule","color":"black","strokeWidth":1.5},
"encoding":{"x":{"field":"x","type":"quantitative","scale":{"type":"log","domain":[0.00001,0.1]},"axis":null},"y":{"field":"ylo","type":"quantitative","scale":{"domain":[0,0.06],"nice":false},"axis":null},"y2":{"field":"yhi"}}},
{"data":{"name":"points"},"transform":[{"filter":"datum.panel==11"}],"mark":{"type":"tick","orient":"horizontal","color":"black","thickness":1.5,"size":13},
"encoding":{"x":{"field":"x","type":"quantitative","scale":{"type":"log","domain":[0.00001,0.1]},"axis":null},"y":{"field":"slo","type":"quantitative","scale":{"domain":[0,0.06],"nice":false},"axis":null}}},
{"data":{"name":"points"},"transform":[{"filter":"datum.panel==11"}],"mark":{"type":"tick","orient":"horizontal","color":"black","thickness":1.5,"size":13},
"encoding":{"x":{"field":"x","type":"quantitative","scale":{"type":"log","domain":[0.00001,0.1]},"axis":null},"y":{"field":"shi","type":"quantitative","scale":{"domain":[0,0.06],"nice":false},"axis":null}}},
{"data":{"name":"points"},"transform":[{"filter":"datum.panel==11"}],"mark":{"type":"point","shape":"circle","filled":true,"color":"black","size":100,"opacity":1},
"encoding":{"x":{"field":"x","type":"quantitative","scale":{"type":"log","domain":[0.00001,0.1]},"axis":null},"y":{"field":"y","type":"quantitative","scale":{"domain":[0,0.06],"nice":false},"axis":null}}}
]},
{"width":256,"height":172,
"title":{"text":"Q² = 2000 GeV²","anchor":"start","frame":"group","offset":-18,"dx":14,"dy":31,"baseline":"alphabetic"},
"resolve":{"axis":{"x":"independent","y":"independent"}},
"layer":[
{"data":{"name":"curves"},"transform":[{"filter":"datum.panel==12"}],"mark":{"type":"area","color":"#b4c3d4","interpolate":"monotone"},
"encoding":{"x":{"field":"x","type":"quantitative","scale":{"type":"log","domain":[0.00001,0.1]},"axis":{"orient":"bottom","values":[0.00001,0.00002,0.00003,0.00004,0.00005,0.00006,0.00007,0.00008,0.00009,0.0001,0.0002,0.0003,0.0004,0.0005,0.0006,0.0007,0.0008,0.0009,0.001,0.002,0.003,0.004,0.005,0.006,0.007,0.008,0.009,0.01,0.02,0.03,0.04,0.05,0.06,0.07,0.08,0.09,0.1],"tickSize":{"condition":{"test":"datum.value==0.0001||datum.value==0.001||datum.value==0.01","value":-7},"value":-3.5},"labelExpr":"datum.value==0.0001?'10⁻⁴':datum.value==0.001?'10⁻³':datum.value==0.01?'10⁻²':''","labelOverlap":false,"labelFlush":false,"labelPadding":12,"title":"x_Bj","titleX":276,"titleY":44,"titleAlign":"right","titleBaseline":"alphabetic","titleFontSize":20}},
"y":{"field":"lo","type":"quantitative","scale":{"domain":[0,0.06],"nice":false},"axis":{"orient":"left","values":[0.01,0.02,0.03,0.04,0.05],"tickSize":{"condition":{"test":"datum.value==0.02||datum.value==0.04","value":-12},"value":-6},"labels":false,"title":null}},
"y2":{"field":"hi"}}},
{"data":{"name":"curves"},"transform":[{"filter":"datum.panel==12"}],"mark":{"type":"line","color":"#0000ff","strokeWidth":1.8,"interpolate":"monotone"},
"encoding":{"x":{"field":"x","type":"quantitative","scale":{"type":"log","domain":[0.00001,0.1]},"axis":{"orient":"top","values":[0.00001,0.00002,0.00003,0.00004,0.00005,0.00006,0.00007,0.00008,0.00009,0.0001,0.0002,0.0003,0.0004,0.0005,0.0006,0.0007,0.0008,0.0009,0.001,0.002,0.003,0.004,0.005,0.006,0.007,0.008,0.009,0.01,0.02,0.03,0.04,0.05,0.06,0.07,0.08,0.09,0.1],"tickSize":{"condition":{"test":"datum.value==0.0001||datum.value==0.001||datum.value==0.01","value":-7},"value":-3.5},"labels":false,"title":null}},
"y":{"field":"nlo","type":"quantitative","scale":{"domain":[0,0.06],"nice":false},"axis":{"orient":"right","values":[0.01,0.02,0.03,0.04,0.05],"tickSize":{"condition":{"test":"datum.value==0.02||datum.value==0.04","value":-10},"value":-5},"labels":false,"title":null}}}},
{"data":{"name":"curves"},"transform":[{"filter":"datum.panel==12"}],"mark":{"type":"line","color":"#8c6d5c","strokeWidth":2.5,"strokeDash":[6,4],"interpolate":"monotone"},
"encoding":{"x":{"field":"x","type":"quantitative","scale":{"type":"log","domain":[0.00001,0.1]},"axis":null},"y":{"field":"hq","type":"quantitative","scale":{"domain":[0,0.06],"nice":false},"axis":null}}},
{"data":{"name":"points"},"transform":[{"filter":"datum.panel==12"}],"mark":{"type":"rule","color":"black","strokeWidth":1.5},
"encoding":{"x":{"field":"x","type":"quantitative","scale":{"type":"log","domain":[0.00001,0.1]},"axis":null},"y":{"field":"ylo","type":"quantitative","scale":{"domain":[0,0.06],"nice":false},"axis":null},"y2":{"field":"yhi"}}},
{"data":{"name":"points"},"transform":[{"filter":"datum.panel==12"}],"mark":{"type":"tick","orient":"horizontal","color":"black","thickness":1.5,"size":13},
"encoding":{"x":{"field":"x","type":"quantitative","scale":{"type":"log","domain":[0.00001,0.1]},"axis":null},"y":{"field":"slo","type":"quantitative","scale":{"domain":[0,0.06],"nice":false},"axis":null}}},
{"data":{"name":"points"},"transform":[{"filter":"datum.panel==12"}],"mark":{"type":"tick","orient":"horizontal","color":"black","thickness":1.5,"size":13},
"encoding":{"x":{"field":"x","type":"quantitative","scale":{"type":"log","domain":[0.00001,0.1]},"axis":null},"y":{"field":"shi","type":"quantitative","scale":{"domain":[0,0.06],"nice":false},"axis":null}}},
{"data":{"name":"points"},"transform":[{"filter":"datum.panel==12"}],"mark":{"type":"point","shape":"circle","filled":true,"color":"black","size":100,"opacity":1},
"encoding":{"x":{"field":"x","type":"quantitative","scale":{"type":"log","domain":[0.00001,0.1]},"axis":null},"y":{"field":"y","type":"quantitative","scale":{"domain":[0,0.06],"nice":false},"axis":null}}}
]}
]
}
